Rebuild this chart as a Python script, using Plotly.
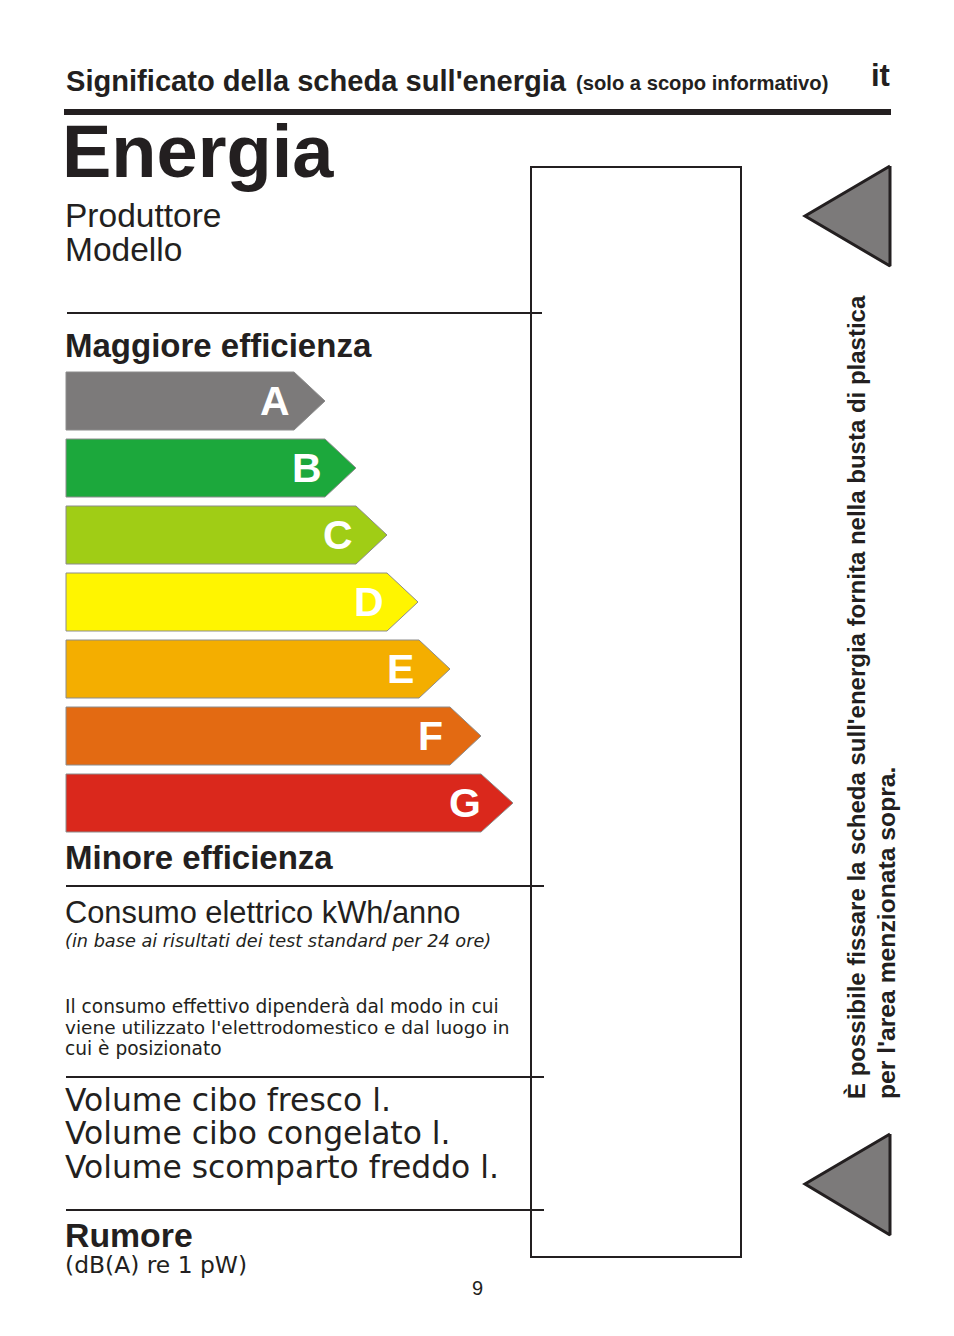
import plotly.graph_objects as go

FONT = "Liberation Sans"
WIDE = "DejaVu Sans"   # the stretched lines on the label
INK = "#231f20"

# energy classes
grades = ["A", "B", "C", "D", "E", "F", "G"]
bar_colors = ["#7c7a7a", "#1ca83c", "#a0cd15", "#fff500", "#f4ae00", "#e36a12", "#da281c"]
body_ends = [294, 325, 356, 387, 419, 450, 481]
tip_ends = [325, 356, 387, 418, 450, 481, 513]
bar_tops = [372, 439, 506, 573, 640, 707, 774]
letter_centers = [275, 307, 338, 369, 400, 430, 465]
BAR_LEFT = 66
BAR_H = 58

# label texts: text, x, y, size, bold, italic, font
labels = [
    ("Significato della scheda sull'energia", 66, 81, 29.1, True, False, FONT),
    ("(solo a scopo informativo)", 576, 83, 20.2, True, False, FONT),
    ("it", 871, 75, 31, True, False, FONT),
    ("Energia", 62, 151, 74, True, False, FONT),
    ("Produttore", 65, 215, 33.5, False, False, FONT),
    ("Modello", 65, 249, 33.5, False, False, FONT),
    ("Maggiore efficienza", 65, 345, 33, True, False, FONT),
    ("Minore efficienza", 65, 857, 33, True, False, FONT),
    ("Consumo elettrico kWh/anno", 65, 912, 30.8, False, False, FONT),
    ("(in base ai risultati dei test standard per 24 ore)", 65, 941, 17.7, False, True, WIDE),
    ("Il consumo effettivo dipenderà dal modo in cui", 65, 1006, 18.6, False, False, WIDE),
    ("viene utilizzato l'elettrodomestico e dal luogo in", 65, 1027, 18.5, False, False, WIDE),
    ("cui è posizionato", 65, 1048, 18.6, False, False, WIDE),
    ("Volume cibo fresco l.", 65, 1100, 31.4, False, False, WIDE),
    ("Volume cibo congelato l.", 65, 1133, 31.4, False, False, WIDE),
    ("Volume scomparto freddo l.", 65, 1167, 31.4, False, False, WIDE),
    ("Rumore", 65, 1235, 33.8, True, False, FONT),
    ("(dB(A) re 1 pW)", 65, 1265, 23.4, False, False, WIDE),
]
side_labels = [
    ("È possibile fissare la scheda sull'energia fornita nella busta di plastica", 856, 24),
    ("per l'area menzionata sopra.", 886, 24.7),
]
SIDE_BOTTOM = 1101

# rules: x0, x1, y, width
rules = [
    (64, 891, 112, 6),
    (67, 542, 313, 2),
    (66, 544, 886, 2),
    (66, 544, 1077, 2),
    (66, 544, 1210, 2),
]

# triangles on the right: top, mid, bottom
triangles = [(166, 216, 266), (1134, 1184, 1235)]
TRI_RIGHT = 890
TRI_LEFT = 805

fig = go.Figure()

for g, col, end, tip, top, cx in zip(grades, bar_colors, body_ends, tip_ends, bar_tops, letter_centers):
    fig.add_trace(go.Scatter(
        x=[BAR_LEFT, end, tip, end, BAR_LEFT, BAR_LEFT],
        y=[top, top, top + BAR_H / 2, top + BAR_H, top + BAR_H, top],
        mode="lines", fill="toself", fillcolor=col,
        line=dict(color="#8c8c8c", width=1), name=g, hoverinfo="skip",
    ))
    fig.add_annotation(x=cx, y=top + BAR_H / 2, text=f"<b>{g}</b>", showarrow=False,
                       xanchor="center", yanchor="middle",
                       font=dict(family=FONT, size=41, color="white"))

for t, m, b in triangles:
    fig.add_trace(go.Scatter(
        x=[TRI_RIGHT, TRI_LEFT, TRI_RIGHT, TRI_RIGHT],
        y=[t, m, b, t],
        mode="lines", fill="toself", fillcolor="#7c7a7a",
        line=dict(color=INK, width=3), hoverinfo="skip",
    ))

for text, x, y, size, bold, italic, family in labels:
    s = text
    if bold:
        s = f"<b>{s}</b>"
    if italic:
        s = f"<i>{s}</i>"
    fig.add_annotation(x=x, y=y, text=s, showarrow=False, xanchor="left", yanchor="middle",
                       xshift=-2, font=dict(family=family, size=size, color=INK))

for text, x, size in side_labels:
    fig.add_annotation(x=x, y=SIDE_BOTTOM, text=f"<b>{text}</b>", showarrow=False, textangle=-90,
                       xanchor="center", yanchor="bottom",
                       font=dict(family=FONT, size=size, color=INK))

fig.add_annotation(x=477, y=1288, text="9", showarrow=False,
                   font=dict(family=FONT, size=20, color=INK))

# empty box for the sticker
fig.add_shape(type="rect", x0=531, x1=741, y0=167, y1=1257, line=dict(color=INK, width=2))
for x0, x1, y, w in rules:
    fig.add_shape(type="line", x0=x0, x1=x1, y0=y, y1=y, line=dict(color=INK, width=w))

# page body keeps its 8px margin, so the figure is that much smaller than the window
fig.update_layout(
    width=938, height=1320, margin=dict(l=0, r=0, t=0, b=0),
    paper_bgcolor="white", plot_bgcolor="white", showlegend=False,
    xaxis=dict(range=[8, 946], visible=False),
    yaxis=dict(range=[1328, 8], visible=False),
)

fig.write_html("out.html")
